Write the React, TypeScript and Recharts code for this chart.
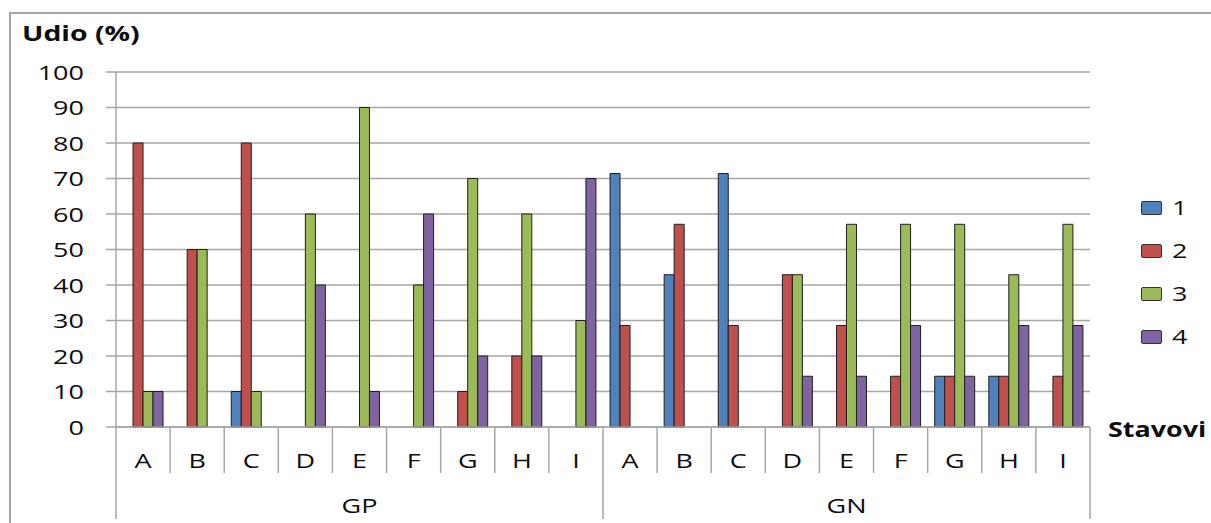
import { BarChart, Bar, XAxis, YAxis, CartesianGrid } from 'recharts';

// categories
const groups = ['GP', 'GN'];
const letters = ['A', 'B', 'C', 'D', 'E', 'F', 'G', 'H', 'I'];
const seriesNames = ['1', '2', '3', '4'];
const yTicks = [0, 10, 20, 30, 40, 50, 60, 70, 80, 90, 100];

// values (%) per series, GP then GN
const s1GP = [0, 0, 10, 0, 0, 0, 0, 0, 0];
const s2GP = [80, 50, 80, 0, 0, 0, 10, 20, 0];
const s3GP = [10, 50, 10, 60, 90, 40, 70, 60, 30];
const s4GP = [10, 0, 0, 40, 10, 60, 20, 20, 70];
const s1GN = [71.4, 42.9, 71.4, 0, 0, 0, 14.3, 14.3, 0];
const s2GN = [28.6, 57.1, 28.6, 42.9, 28.6, 14.3, 14.3, 14.3, 14.3];
const s3GN = [0, 0, 0, 42.9, 57.1, 57.1, 57.1, 42.9, 57.1];
const s4GN = [0, 0, 0, 14.3, 14.3, 28.6, 14.3, 28.6, 28.6];

const colors = ['#4f81bd', '#c0504d', '#9bbb59', '#8064a2'];

const bySeries: Record<string, number[][]> = {
    GP: [s1GP, s2GP, s3GP, s4GP],
    GN: [s1GN, s2GN, s3GN, s4GN],
};

const rows = groups.flatMap((g) =>
    letters.map((l, i) => ({
        key: g + '-' + l,
        cat: l,
        group: g,
        pos: i,
        s1: bySeries[g][0][i],
        s2: bySeries[g][1][i],
        s3: bySeries[g][2][i],
        s4: bySeries[g][3][i],
    }))
);

const W = 1211;
const H = 523;
const LEFT = 116;
const RIGHT = 121;
const TOP = 72;
const XH = 96;
const PLOT_W = W - LEFT - RIGHT;
const FONT = '"Open Sans", sans-serif';
const SX = 1.35;
const GRID = '#a6a6a6';
const INK = '#0d0d0d';

const Stretch = ({ x, y, anchor = 'middle', size = 20, children }: any) => (
    <g transform={`translate(${x},${y}) scale(${SX},1)`}>
        <text x={0} y={0} textAnchor={anchor} dominantBaseline="central" fontFamily={FONT}
            fontSize={size} fontWeight={450} fill={INK}>
            {children}
        </text>
    </g>
);

const YTick = (props: any) => {
    const { x, y, payload } = props;
    return <Stretch x={x} y={y} anchor="end">{payload.value}</Stretch>;
};

const XTick = (props: any) => {
    const { x, y, index } = props;
    const half = PLOT_W / rows.length / 2;
    const row = rows[index];
    if (!row) return null;
    const last = index === rows.length - 1 || rows[index + 1].group !== row.group;
    const mid = row.pos === Math.floor(letters.length / 2);
    return (
        <g>
            {index === 0 && (
                <line x1={x - half} x2={x - half} y1={y} y2={y + 92} stroke={GRID} strokeWidth={1.5} />
            )}
            <line x1={x + half} x2={x + half} y1={y} y2={y + (last ? 92 : 46)} stroke={GRID} strokeWidth={1.5} />
            <Stretch x={x} y={y + 33}>{row.cat}</Stretch>
            {mid && <Stretch x={x} y={y + 78}>{row.group}</Stretch>}
        </g>
    );
};

const LegendBox = () => (
    <div style={{ position: 'absolute', left: 1141, top: 186, fontFamily: FONT }}>
        {seriesNames.map((n, i) => (
            <div key={n} style={{ display: 'flex', alignItems: 'center', height: 43 }}>
                <div style={{ width: 19, height: 12, background: colors[i], border: '1.5px solid #333', borderRadius: 2 }} />
                <span style={{ display: 'inline-block', marginLeft: 10, fontSize: 20, fontWeight: 450, color: INK, transform: `scaleX(${SX})`, transformOrigin: 'left center' }}>{n}</span>
            </div>
        ))}
    </div>
);

const App = () => {
    return (
        <div style={{ position: 'absolute', left: 0, top: 0, width: W, height: H, background: '#fff', overflow: 'hidden' }}>
            <div style={{ position: 'absolute', left: 9, top: 12, width: W + 20, height: H + 20, borderTop: '2px solid #a6a6a6', borderLeft: '2px solid #a6a6a6' }} />
            <div style={{ position: 'absolute', left: 22, top: 19, fontFamily: FONT, fontWeight: 700, fontSize: 21, color: INK, transform: 'scaleX(1.35)', transformOrigin: 'left center', whiteSpace: 'nowrap' }}>Udio (%)</div>
            <div style={{ position: 'absolute', left: 1108, top: 415, fontFamily: FONT, fontWeight: 700, fontSize: 21, color: INK, transform: 'scaleX(1.28)', transformOrigin: 'left center', whiteSpace: 'nowrap' }}>Stavovi</div>
            <BarChart
                width={W}
                height={H}
                data={rows}
                margin={{ top: TOP, right: RIGHT, left: 0, bottom: 0 }}
                barCategoryGap="13%"
                barGap={0}
            >
                <CartesianGrid vertical={false} stroke={GRID} strokeWidth={1.5} />
                <XAxis dataKey="key" interval={0} height={XH} tickSize={0} tickMargin={0}
                    axisLine={{ stroke: GRID, strokeWidth: 1.5 }} tick={<XTick />} />
                <YAxis domain={[0, 100]} ticks={yTicks} interval={0} width={LEFT} tickSize={10} tickMargin={22}
                    axisLine={{ stroke: GRID, strokeWidth: 1.5 }} tickLine={{ stroke: GRID, strokeWidth: 1.5 }} tick={<YTick />} />
                {['s1', 's2', 's3', 's4'].map((k, i) => (
                    <Bar key={k} dataKey={k} name={seriesNames[i]} fill={colors[i]} stroke="#1f1f1f" strokeWidth={1} isAnimationActive={false} />
                ))}
            </BarChart>
            <LegendBox />
        </div>
    );
};

export default App;
